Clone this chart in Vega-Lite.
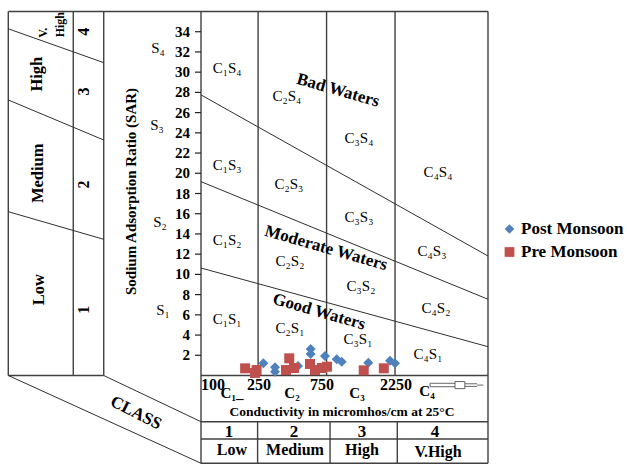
{
  "$schema": "https://vega.github.io/schema/vega-lite/v6.json",
  "width": 287,
  "height": 364,
  "autosize": {"type": "none"},
  "padding": {"left": 201, "top": 11.5, "right": 139, "bottom": 89.5},
  "background": "white",
  "config": {
    "view": {"stroke": null},
    "font": "Liberation Serif",
    "legend": {
      "labelFont": "Liberation Serif",
      "labelFontSize": 17,
      "labelFontWeight": "bold",
      "labelColor": "black",
      "symbolSize": 95,
      "symbolStrokeWidth": 0,
      "rowPadding": 5,
      "padding": 0,
      "labelOffset": 3
    }
  },
  "datasets": {
    "frame": [
      {"x": 4.54, "y": 36, "x2": 10000, "y2": 36},
      {"x": 4.54, "y": 36, "x2": 4.54, "y2": 0},
      {"x": 12.88, "y": 36, "x2": 12.88, "y2": 0},
      {"x": 21, "y": 36, "x2": 21, "y2": 0},
      {"x": 4.54, "y": 0, "x2": 21, "y2": 0},
      {"x": 100, "y": 36, "x2": 100, "y2": -8.68},
      {"x": 10000, "y": 36, "x2": 10000, "y2": -8.68},
      {"x": 250, "y": 36, "x2": 250, "y2": 0},
      {"x": 750, "y": 36, "x2": 750, "y2": 0},
      {"x": 2250, "y": 36, "x2": 2250, "y2": 0},
      {"x": 100, "y": 0, "x2": 10000, "y2": 0},
      {"x": 100, "y": -4.57, "x2": 10000, "y2": -4.57},
      {"x": 100, "y": -6.28, "x2": 10000, "y2": -6.28},
      {"x": 100, "y": -8.68, "x2": 10000, "y2": -8.68},
      {"x": 248, "y": -4.57, "x2": 248, "y2": -8.68},
      {"x": 793, "y": -4.57, "x2": 793, "y2": -8.68},
      {"x": 2333, "y": -4.57, "x2": 2333, "y2": -8.68}
    ],
    "guides": [
      {"x": 4.54, "y": 0, "x2": 100, "y2": -8.68},
      {"x": 21, "y": 0, "x2": 100, "y2": -4.57},
      {"x": 4.54, "y": 34.29, "x2": 21, "y2": 30.94},
      {"x": 4.54, "y": 27.25, "x2": 21, "y2": 23.29},
      {"x": 4.54, "y": 16.2, "x2": 21, "y2": 13.47},
      {"x": 100, "y": 27.75, "x2": 10000, "y2": 11.82},
      {"x": 100, "y": 19.17, "x2": 10000, "y2": 7.54},
      {"x": 100, "y": 10.63, "x2": 10000, "y2": 2.85}
    ],
    "arrow": [
      {"x": 3944, "y": -0.77, "x2": 5888, "y2": -0.77},
      {"x": 3944, "y": -1.11, "x2": 5888, "y2": -1.11},
      {"x": 3944, "y": -0.77, "x2": 3944, "y2": -1.11},
      {"x": 5888, "y": -0.6, "x2": 6900, "y2": -0.6},
      {"x": 5888, "y": -1.3, "x2": 6900, "y2": -1.3},
      {"x": 5888, "y": -0.6, "x2": 5888, "y2": -1.3},
      {"x": 6900, "y": -0.6, "x2": 6900, "y2": -1.3},
      {"x": 6900, "y": -0.82, "x2": 8400, "y2": -0.82},
      {"x": 6900, "y": -1.08, "x2": 8400, "y2": -1.08},
      {"x": 8400, "y": -0.95, "x2": 9300, "y2": -0.95}
    ],
    "sarTicks": [
      {"sar": 2}, {"sar": 4}, {"sar": 6}, {"sar": 8}, {"sar": 10}, {"sar": 12},
      {"sar": 14}, {"sar": 16}, {"sar": 18}, {"sar": 20}, {"sar": 22}, {"sar": 24},
      {"sar": 26}, {"sar": 28}, {"sar": 30}, {"sar": 32}, {"sar": 34}
    ],
    "sarTitle": [
      {"label": "Sodium Adsorption Ratio (SAR)", "x": 32.5, "y": 18.2}
    ],
    "samples": [
      {"season": "Post Monsoon", "conductivity": 272, "sar": 1.21},
      {"season": "Post Monsoon", "conductivity": 328, "sar": 0.81},
      {"season": "Post Monsoon", "conductivity": 328, "sar": 0.38},
      {"season": "Post Monsoon", "conductivity": 474, "sar": 0.94},
      {"season": "Post Monsoon", "conductivity": 581, "sar": 2.62},
      {"season": "Post Monsoon", "conductivity": 581, "sar": 2.13},
      {"season": "Post Monsoon", "conductivity": 731, "sar": 1.93},
      {"season": "Post Monsoon", "conductivity": 882, "sar": 1.6},
      {"season": "Post Monsoon", "conductivity": 956, "sar": 1.36},
      {"season": "Post Monsoon", "conductivity": 1465, "sar": 1.27},
      {"season": "Post Monsoon", "conductivity": 2075, "sar": 1.46},
      {"season": "Post Monsoon", "conductivity": 2249, "sar": 1.21},
      {"season": "Pre Monsoon", "conductivity": 203, "sar": 0.71},
      {"season": "Pre Monsoon", "conductivity": 244, "sar": 0.54},
      {"season": "Pre Monsoon", "conductivity": 238, "sar": 0.25},
      {"season": "Pre Monsoon", "conductivity": 412, "sar": 1.7},
      {"season": "Pre Monsoon", "conductivity": 391, "sar": 0.54},
      {"season": "Pre Monsoon", "conductivity": 445, "sar": 0.74},
      {"season": "Pre Monsoon", "conductivity": 575, "sar": 1.14},
      {"season": "Pre Monsoon", "conductivity": 623, "sar": 0.54},
      {"season": "Pre Monsoon", "conductivity": 697, "sar": 0.74},
      {"season": "Pre Monsoon", "conductivity": 755, "sar": 0.87},
      {"season": "Pre Monsoon", "conductivity": 1361, "sar": 0.51},
      {"season": "Pre Monsoon", "conductivity": 1879, "sar": 0.71}
    ],
    "zones": [
      {"label": "C₁S₄", "x": 152, "y": 30.4},
      {"label": "C₂S₄", "x": 397, "y": 27.65},
      {"label": "C₃S₄", "x": 1262, "y": 23.5},
      {"label": "C₄S₄", "x": 4485, "y": 20.1},
      {"label": "C₁S₃", "x": 152, "y": 20.8},
      {"label": "C₂S₃", "x": 410, "y": 18.9},
      {"label": "C₃S₃", "x": 1262, "y": 15.7},
      {"label": "C₄S₃", "x": 4072, "y": 12.3},
      {"label": "C₁S₂", "x": 152, "y": 13.4},
      {"label": "C₂S₂", "x": 417, "y": 11.3},
      {"label": "C₃S₂", "x": 1303, "y": 8.85},
      {"label": "C₄S₂", "x": 4343, "y": 6.7},
      {"label": "C₁S₁", "x": 152, "y": 5.6},
      {"label": "C₂S₁", "x": 417, "y": 4.7},
      {"label": "C₃S₁", "x": 1242, "y": 3.6},
      {"label": "C₄S₁", "x": 3819, "y": 2.1}
    ],
    "waters": [
      {"label": "Bad Waters", "x": 901, "y": 28.2},
      {"label": "Moderate Waters", "x": 743, "y": 12.6},
      {"label": "Good Waters", "x": 664, "y": 6.3}
    ],
    "sodiumHazard": [
      {"label": "High", "x": 7.19, "y": 29.8},
      {"label": "Medium", "x": 7.31, "y": 20.0},
      {"label": "Low", "x": 7.43, "y": 8.5}
    ],
    "sodiumVeryHigh": [
      {"label": "V.", "x": 7.92, "y": 33.9},
      {"label": "High", "x": 10.4, "y": 34.7}
    ],
    "sodiumClass": [
      {"label": "4", "x": 15.3, "y": 34.0},
      {"label": "3", "x": 15.3, "y": 28.1},
      {"label": "2", "x": 15.3, "y": 18.9},
      {"label": "1", "x": 15.3, "y": 6.5}
    ],
    "sLabels": [
      {"label": "S₄", "x": 50.2, "y": 32.4},
      {"label": "S₃", "x": 49.4, "y": 24.8},
      {"label": "S₂", "x": 51.8, "y": 15.2},
      {"label": "S₁", "x": 54.4, "y": 6.5}
    ],
    "ecTicks": [
      {"label": "100", "x": 121.2, "y": -0.94},
      {"label": "250", "x": 253.7, "y": -0.94},
      {"label": "750", "x": 697, "y": -0.94},
      {"label": "2250", "x": 2285, "y": -0.94}
    ],
    "ecClasses": [
      {"label": "C₁_", "x": 164.4, "y": -1.73},
      {"label": "C₂", "x": 430.7, "y": -1.73},
      {"label": "C₃", "x": 1222, "y": -1.73},
      {"label": "C₄", "x": 3758, "y": -1.53}
    ],
    "caption": [
      {"label": "Conductivity in micromhos/cm at 25°C", "x": 961, "y": -3.61}
    ],
    "salinityClass": [
      {"label": "1", "x": 156.7, "y": -5.55},
      {"label": "2", "x": 444.8, "y": -5.55},
      {"label": "3", "x": 1324, "y": -5.55},
      {"label": "4", "x": 4274, "y": -5.55}
    ],
    "salinityName": [
      {"label": "Low", "x": 164.4, "y": -7.4},
      {"label": "Medium", "x": 452, "y": -7.4},
      {"label": "High", "x": 1324, "y": -7.4},
      {"label": "V.High", "x": 4485, "y": -7.6}
    ],
    "classWord": [
      {"label": "CLASS", "x": 35.2, "y": -3.71}
    ]
  },
  "layer": [
    {
      "data": {"name": "frame"},
      "mark": {"type": "rule", "color": "#404040", "strokeWidth": 1.4},
      "encoding": {
        "x": {"field": "x", "type": "quantitative", "scale": {"type": "log", "domain": [100, 10000], "nice": false}, "axis": null},
        "x2": {"field": "x2"},
        "y": {"field": "y", "type": "quantitative", "scale": {"domain": [0, 36], "nice": false, "zero": false}, "axis": null},
        "y2": {"field": "y2"}
      }
    },
    {
      "data": {"name": "guides"},
      "mark": {"type": "rule", "color": "#303030", "strokeWidth": 1},
      "encoding": {
        "x": {"field": "x", "type": "quantitative", "axis": null},
        "x2": {"field": "x2"},
        "y": {"field": "y", "type": "quantitative", "axis": null},
        "y2": {"field": "y2"}
      }
    },
    {
      "data": {"name": "arrow"},
      "mark": {"type": "rule", "color": "#404040", "strokeWidth": 0.8},
      "encoding": {
        "x": {"field": "x", "type": "quantitative", "axis": null},
        "x2": {"field": "x2"},
        "y": {"field": "y", "type": "quantitative", "axis": null},
        "y2": {"field": "y2"}
      }
    },
    {
      "data": {"name": "sarTicks"},
      "mark": {"type": "rule", "color": "#222222", "strokeWidth": 1.2},
      "encoding": {
        "x": {"datum": 90.8, "type": "quantitative", "axis": null},
        "x2": {"datum": 100},
        "y": {"field": "sar", "type": "quantitative", "axis": null}
      }
    },
    {
      "data": {"name": "sarTicks"},
      "mark": {"type": "text", "font": "Liberation Serif", "fontSize": 15, "fontWeight": "bold", "color": "black", "align": "right", "baseline": "middle"},
      "encoding": {
        "x": {"datum": 83.8, "type": "quantitative", "axis": null},
        "y": {"field": "sar", "type": "quantitative", "axis": null},
        "text": {"field": "sar", "type": "quantitative"}
      }
    },
    {
      "data": {"name": "sarTitle"},
      "mark": {"type": "text", "font": "Liberation Serif", "fontSize": 15, "fontWeight": "bold", "color": "black", "align": "center", "baseline": "middle", "angle": 270},
      "encoding": {
        "x": {"field": "x", "type": "quantitative", "axis": null},
        "y": {"field": "y", "type": "quantitative", "axis": null},
        "text": {"field": "label"}
      }
    },
    {
      "data": {"name": "samples"},
      "mark": {"type": "point", "filled": true, "size": 100, "opacity": 1},
      "encoding": {
        "x": {"field": "conductivity", "type": "quantitative", "scale": {"type": "log", "domain": [100, 10000], "nice": false}, "axis": null},
        "y": {"field": "sar", "type": "quantitative", "scale": {"domain": [0, 36], "nice": false, "zero": false}, "axis": null},
        "color": {
          "field": "season",
          "type": "nominal",
          "scale": {"domain": ["Post Monsoon", "Pre Monsoon"], "range": ["#4F81BD", "#C0504D"]},
          "legend": {"title": null, "orient": "none", "legendX": 300, "legendY": 209}
        },
        "shape": {
          "field": "season",
          "type": "nominal",
          "scale": {"domain": ["Post Monsoon", "Pre Monsoon"], "range": ["diamond", "square"]},
          "legend": {"title": null, "orient": "none", "legendX": 300, "legendY": 209}
        }
      }
    },
    {
      "data": {"name": "zones"},
      "mark": {"type": "text", "font": "Liberation Serif", "fontSize": 15, "color": "black", "align": "center", "baseline": "middle"},
      "encoding": {
        "x": {"field": "x", "type": "quantitative", "axis": null},
        "y": {"field": "y", "type": "quantitative", "axis": null},
        "text": {"field": "label"}
      }
    },
    {
      "data": {"name": "waters"},
      "mark": {"type": "text", "font": "Liberation Serif", "fontSize": 17, "fontWeight": "bold", "color": "black", "align": "center", "baseline": "middle", "angle": 16},
      "encoding": {
        "x": {"field": "x", "type": "quantitative", "axis": null},
        "y": {"field": "y", "type": "quantitative", "axis": null},
        "text": {"field": "label"}
      }
    },
    {
      "data": {"name": "sodiumHazard"},
      "mark": {"type": "text", "font": "Liberation Serif", "fontSize": 16.5, "fontWeight": "bold", "color": "black", "align": "center", "baseline": "middle", "angle": 270},
      "encoding": {
        "x": {"field": "x", "type": "quantitative", "axis": null},
        "y": {"field": "y", "type": "quantitative", "axis": null},
        "text": {"field": "label"}
      }
    },
    {
      "data": {"name": "sodiumVeryHigh"},
      "mark": {"type": "text", "font": "Liberation Serif", "fontSize": 12, "fontWeight": "bold", "color": "black", "align": "center", "baseline": "middle", "angle": 270},
      "encoding": {
        "x": {"field": "x", "type": "quantitative", "axis": null},
        "y": {"field": "y", "type": "quantitative", "axis": null},
        "text": {"field": "label"}
      }
    },
    {
      "data": {"name": "sodiumClass"},
      "mark": {"type": "text", "font": "Liberation Serif", "fontSize": 16, "fontWeight": "bold", "color": "black", "align": "center", "baseline": "middle", "angle": 270},
      "encoding": {
        "x": {"field": "x", "type": "quantitative", "axis": null},
        "y": {"field": "y", "type": "quantitative", "axis": null},
        "text": {"field": "label"}
      }
    },
    {
      "data": {"name": "sLabels"},
      "mark": {"type": "text", "font": "Liberation Serif", "fontSize": 15, "color": "black", "align": "center", "baseline": "middle"},
      "encoding": {
        "x": {"field": "x", "type": "quantitative", "axis": null},
        "y": {"field": "y", "type": "quantitative", "axis": null},
        "text": {"field": "label"}
      }
    },
    {
      "data": {"name": "ecTicks"},
      "mark": {"type": "text", "font": "Liberation Serif", "fontSize": 16, "fontWeight": "bold", "color": "black", "align": "center", "baseline": "middle"},
      "encoding": {
        "x": {"field": "x", "type": "quantitative", "axis": null},
        "y": {"field": "y", "type": "quantitative", "axis": null},
        "text": {"field": "label"}
      }
    },
    {
      "data": {"name": "ecClasses"},
      "mark": {"type": "text", "font": "Liberation Serif", "fontSize": 15, "fontWeight": "bold", "color": "black", "align": "center", "baseline": "middle"},
      "encoding": {
        "x": {"field": "x", "type": "quantitative", "axis": null},
        "y": {"field": "y", "type": "quantitative", "axis": null},
        "text": {"field": "label"}
      }
    },
    {
      "data": {"name": "caption"},
      "mark": {"type": "text", "font": "Liberation Serif", "fontSize": 13.5, "fontWeight": "bold", "color": "black", "align": "center", "baseline": "middle"},
      "encoding": {
        "x": {"field": "x", "type": "quantitative", "axis": null},
        "y": {"field": "y", "type": "quantitative", "axis": null},
        "text": {"field": "label"}
      }
    },
    {
      "data": {"name": "salinityClass"},
      "mark": {"type": "text", "font": "Liberation Serif", "fontSize": 17, "fontWeight": "bold", "color": "black", "align": "center", "baseline": "middle"},
      "encoding": {
        "x": {"field": "x", "type": "quantitative", "axis": null},
        "y": {"field": "y", "type": "quantitative", "axis": null},
        "text": {"field": "label"}
      }
    },
    {
      "data": {"name": "salinityName"},
      "mark": {"type": "text", "font": "Liberation Serif", "fontSize": 16, "fontWeight": "bold", "color": "black", "align": "center", "baseline": "middle"},
      "encoding": {
        "x": {"field": "x", "type": "quantitative", "axis": null},
        "y": {"field": "y", "type": "quantitative", "axis": null},
        "text": {"field": "label"}
      }
    },
    {
      "data": {"name": "classWord"},
      "mark": {"type": "text", "font": "Liberation Serif", "fontSize": 17, "fontWeight": "bold", "color": "black", "align": "center", "baseline": "middle", "angle": 27},
      "encoding": {
        "x": {"field": "x", "type": "quantitative", "axis": null},
        "y": {"field": "y", "type": "quantitative", "axis": null},
        "text": {"field": "label"}
      }
    }
  ]
}
